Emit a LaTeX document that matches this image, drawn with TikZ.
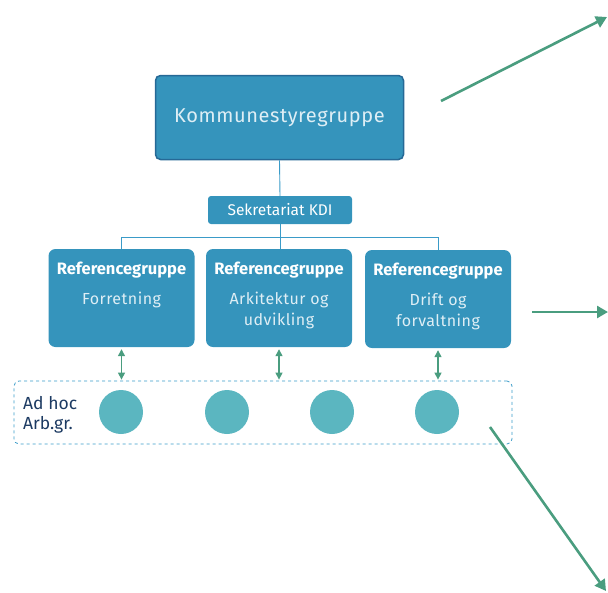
\documentclass[tikz,border=0pt]{standalone}
\usepackage{fontspec}
\setmainfont{Fira Sans}
\newfontfamily\widefont[LetterSpace=3]{Fira Sans}
\usetikzlibrary{arrows.meta, positioning}
\definecolor{boxblue}{RGB}{53,148,188}
\definecolor{edgeblue}{RGB}{38,105,150}
\definecolor{lineblue}{RGB}{58,155,200}
\definecolor{arrowgreen}{RGB}{74,157,127}
\definecolor{dotteal}{RGB}{91,182,192}
\definecolor{textnavy}{RGB}{28,58,98}
\definecolor{paletext}{RGB}{222,238,245}

\begin{document}
\begin{tikzpicture}[x=1pt, y=-1pt,
  refbox/.style={fill=boxblue, rounded corners=7pt, minimum width=146pt, minimum height=98pt, inner sep=0pt},
  reftitle/.style={font=\fontsize{16.5}{18}\selectfont\bfseries, text=white, inner sep=0pt},
  refsub/.style={font=\widefont\fontsize{16}{21}\selectfont, text=paletext, align=center, inner sep=0pt},
  tree/.style={draw=lineblue, line width=0.9pt},
  dbl/.style={draw=arrowgreen, line width=1.3pt, {Triangle[length=7pt, width=7pt]}-{Triangle[length=7pt, width=7pt]}, shorten <=2pt, shorten >=1pt},
  outarrow/.style={draw=arrowgreen, line width=2.6pt, -{Triangle[length=11pt, width=12pt]}},
  dot/.style={circle, fill=dotteal, minimum size=44pt, inner sep=0pt},
]
\useasboundingbox (0,0) rectangle (608,592);

% Top group
\node[fill=boxblue, draw=edgeblue, line width=1.5pt, rounded corners=5pt,
      minimum width=248pt, minimum height=84pt, text=paletext,
      font=\widefont\fontsize{20}{24}\selectfont] (ks) at (279.5,117.5) {Kommunestyregruppe};

\node[fill=boxblue, rounded corners=3pt, minimum width=144pt, minimum height=28pt,
      text=white, font=\fontsize{15.5}{17}\selectfont] (sek) at (280,210) {Sekretariat KDI};

% Reference groups
\node[refbox] (forr) at (121.5,298) {};
\node[refbox] (arki) at (279,298) {};
\node[refbox] (drift) at (438,299) {};

\node[reftitle, below=13pt of forr.north] (forrT) {Referencegruppe};
\node[refsub, below=13pt of forrT.south, anchor=north] (forrS) {Forretning};
\node[reftitle, below=13pt of arki.north] (arkiT) {Referencegruppe};
\node[refsub, below=13pt of arkiT.south, anchor=north] (arkiS) {Arkitektur og\\udvikling};
\node[reftitle, below=13pt of drift.north] (driftT) {Referencegruppe};
\node[refsub, below=13pt of driftT.south, anchor=north] (driftS) {Drift og\\forvaltning};

% Tree lines
\coordinate (bus) at (280,237);
\draw[tree] (ks.south) -- (sek.north);
\draw[tree] (sek.south) -- (bus);
\draw[tree] (bus) -| (forr.north);
\draw[tree] (bus) -| (drift.north);
\draw[tree] (bus) -- (arki.north -| bus);

% Ad hoc working groups
\node[draw=lineblue, dashed, line width=0.8pt, rounded corners=5pt,
      minimum width=498pt, minimum height=63pt] (adhoc) at (263,412.5) {};
\node[anchor=west, align=left, text=textnavy, inner sep=0pt,
      font=\fontsize{17.5}{20}\selectfont] (adhocT) at (23,415) {Ad hoc\\Arb.gr.};
\node[dot] (d1) at (121,412) {};
\node[dot] (d2) at (227,412) {};
\node[dot] (d3) at (332,412) {};
\node[dot] (d4) at (437,412) {};

\draw[dbl] (forr.south) -- (forr.south |- adhoc.north);
\draw[dbl] (arki.south) -- (arki.south |- adhoc.north);
\draw[dbl] (drift.south) -- (drift.south |- adhoc.north);

% Outgoing arrows
\coordinate (o1s) at (441,101);
\coordinate (o1e) at (607,17);
\coordinate (o2s) at (532,312);
\coordinate (o2e) at (608,312);
\coordinate (o3s) at (490,427);
\coordinate (o3e) at (606,591);
\draw[outarrow] (o1s) -- (o1e);
\draw[outarrow] (o2s) -- (o2e);
\draw[outarrow] (o3s) -- (o3e);
\end{tikzpicture}
\end{document}
